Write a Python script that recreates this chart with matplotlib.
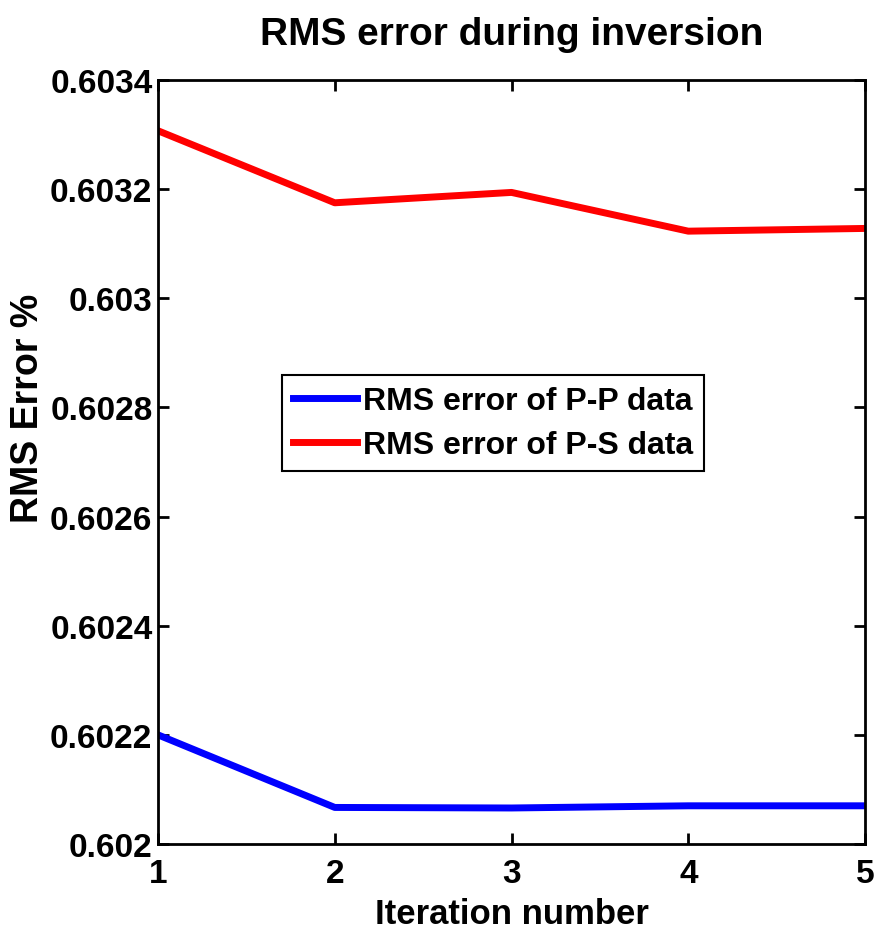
import matplotlib.pyplot as plt

# data
iterations = [1, 2, 3, 4, 5]
rms_pp = [0.602200, 0.602067, 0.602066, 0.602070, 0.602070]
rms_ps = [0.603307, 0.603175, 0.603194, 0.603123, 0.603128]
yticks = [0.602, 0.6022, 0.6024, 0.6026, 0.6028, 0.603, 0.6032, 0.6034]
ytick_labels = ["0.602", "0.6022", "0.6024", "0.6026", "0.6028", "0.603", "0.6032", "0.6034"]

fam = ["Liberation Sans", "DejaVu Sans"]

fig = plt.figure(figsize=(8.84, 9.37), dpi=100)
ax = fig.add_axes([158 / 884, 1 - 845 / 937, (865 - 158) / 884, (845 - 81) / 937])

ax.plot(iterations, rms_pp, color="#0000ff", lw=5, label="RMS error of P-P data")
ax.plot(iterations, rms_ps, color="#ff0000", lw=5, label="RMS error of P-S data")

ax.set_xlim(1, 5)
ax.set_ylim(0.602, 0.6034)
ax.set_xticks(iterations)
ax.set_yticks(yticks)
ax.set_yticklabels(ytick_labels)

for lab in ax.get_xticklabels() + ax.get_yticklabels():
    lab.set_family(fam)
    lab.set_fontweight("bold")
    lab.set_fontsize(24)

ax.tick_params(direction="in", top=True, right=True, length=8, width=2)
ax.tick_params(axis="x", pad=10)
ax.tick_params(axis="y", pad=4)
for s in ax.spines.values():
    s.set_linewidth(2)

ax.set_title("RMS error during inversion", family=fam, fontweight="bold", fontsize=28, pad=26)
ax.set_xlabel("Iteration number", family=fam, fontweight="bold", fontsize=25)
ax.xaxis.set_label_coords(0.5, -0.07)
ax.set_ylabel("RMS Error %", family=fam, fontweight="bold", fontsize=27)
ax.yaxis.set_label_coords(-0.158, 0.572)

leg = ax.legend(loc="center", bbox_to_anchor=(0.474, 0.551), handlelength=2.0,
                handletextpad=0.2, borderpad=0.35, labelspacing=0.45, fancybox=False,
                framealpha=1, edgecolor="black", prop={"family": fam, "weight": "bold", "size": 23})
leg.get_frame().set_linewidth(1.5)

fig.savefig("out.png", dpi=100)
